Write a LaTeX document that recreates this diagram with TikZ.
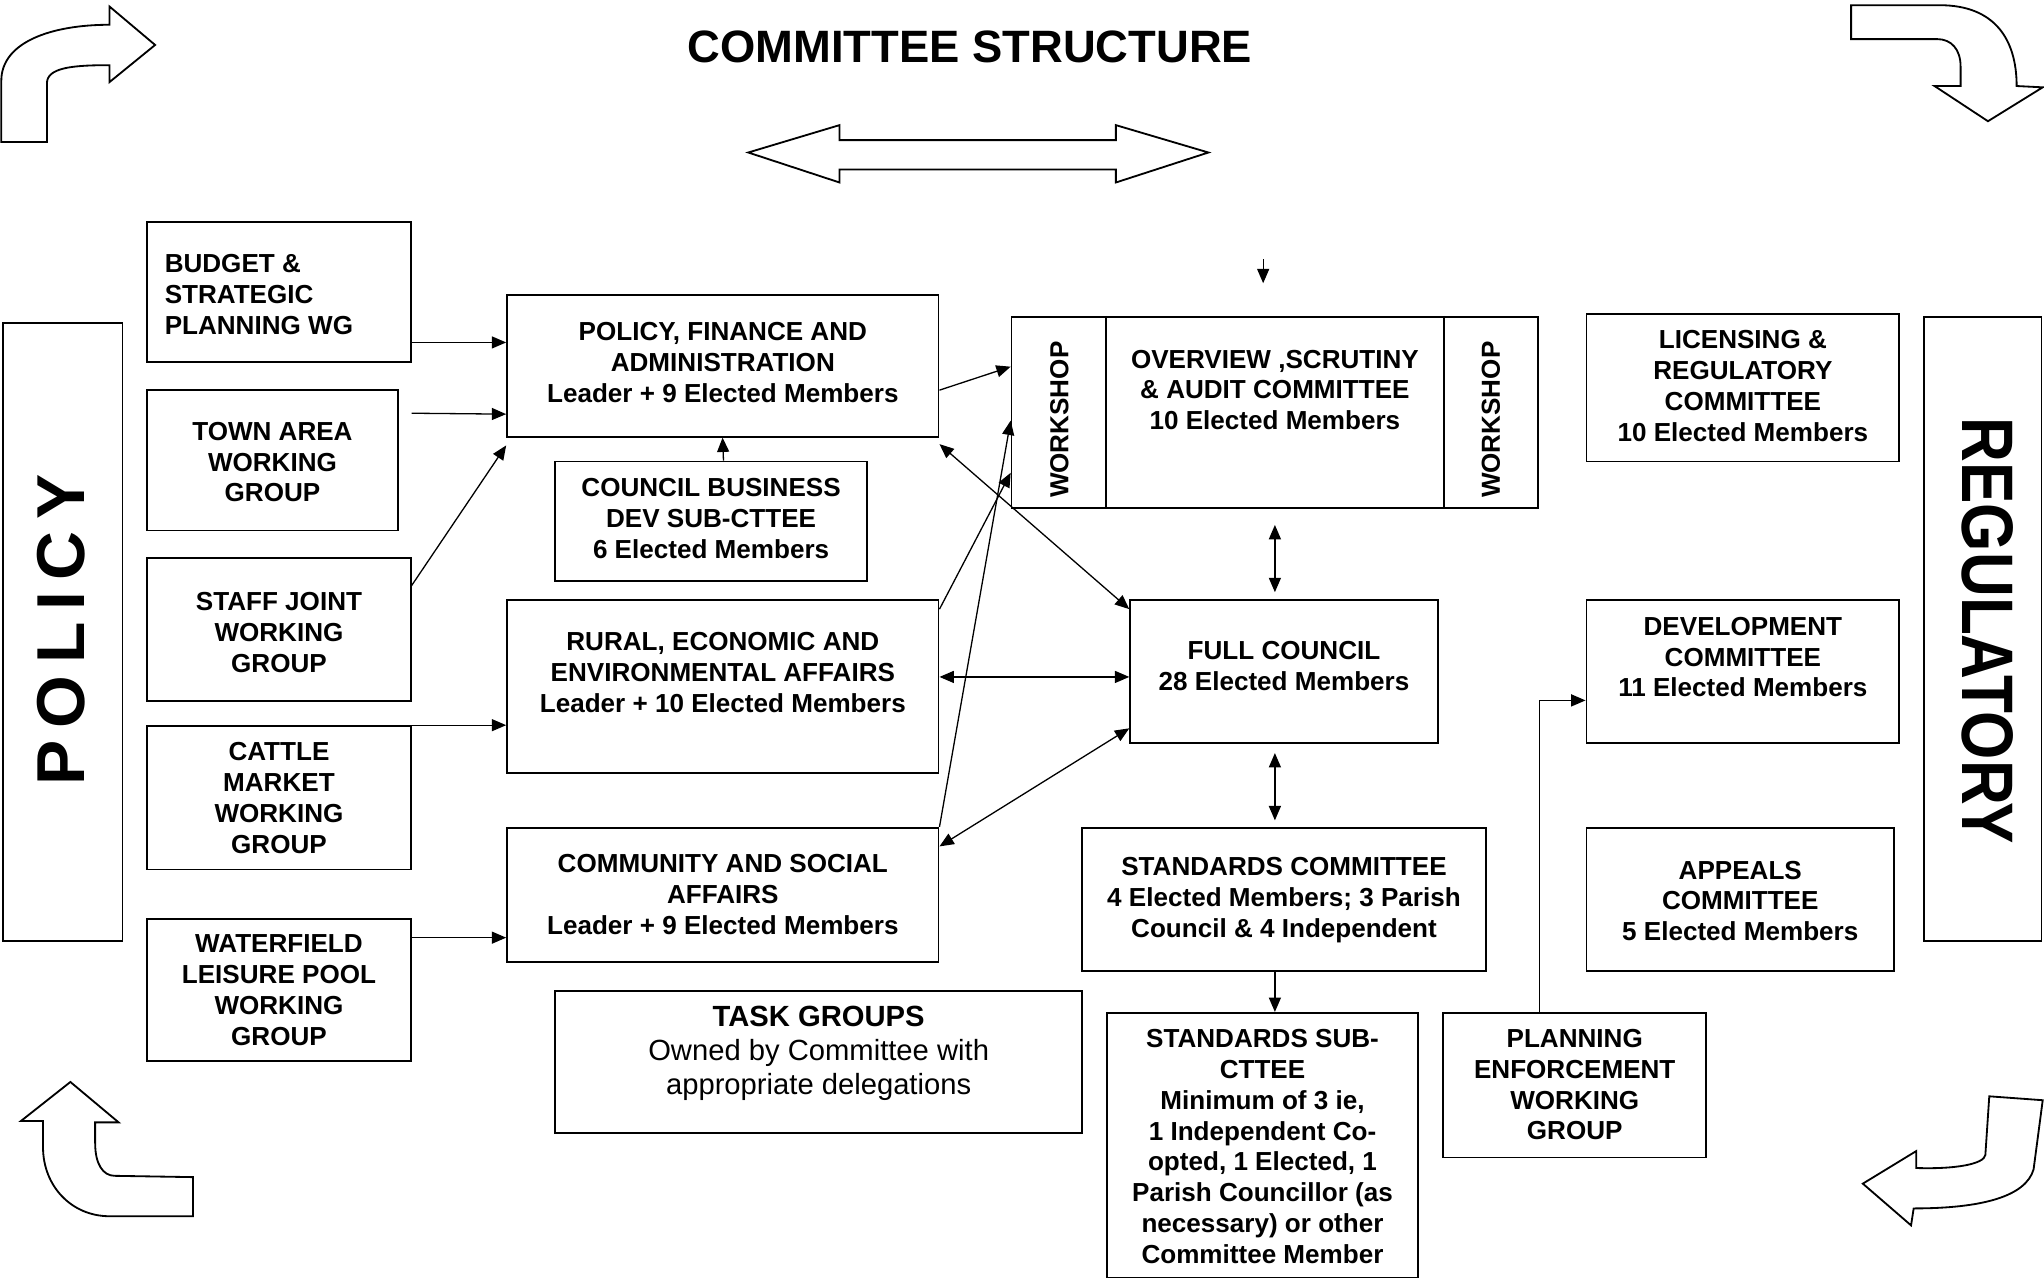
\documentclass[tikz,border=0pt]{standalone}
\usepackage{fontspec}
\setmainfont{Liberation Sans}
\usetikzlibrary{arrows.meta,calc,fit}
\begin{document}
\begin{tikzpicture}[x=0.5pt,y=-0.5pt,
  box/.style={draw, line width=0.7pt, inner sep=0pt},
  txt/.style={inner sep=0pt, align=center, text depth=0pt, font=\fontsize{10}{11.8}\selectfont\bfseries},
  arr/.style={line width=0.5pt, -{Triangle[length=5.5pt,width=4.6pt]}},
  darr/.style={line width=0.5pt, {Triangle[length=5.5pt,width=4.6pt]}-{Triangle[length=5.5pt,width=4.6pt]}},
  block/.style={draw, line width=0.7pt, fill=white, line join=miter}]
\useasboundingbox (0,0) rectangle (1568,983);

% title
\node[inner sep=0pt, font=\fontsize{17.4}{17.4}\selectfont\bfseries] (title) at (744,36) {COMMITTEE STRUCTURE};

% block arrows
\draw[block] (574,117) -- (644,96) -- (644,107.5) -- (856,107.5) -- (856,96) -- (927,117)
  -- (856,140) -- (856,130) -- (644,130) -- (644,140) -- cycle;
\draw[block] (1,109) -- (1,62) .. controls (1,32) and (40,19) .. (84,19) -- (84,5) -- (119,34.5)
  -- (84,63) -- (84,50) .. controls (55,50) and (36,52) .. (36,64) -- (36,109) -- cycle;
\draw[block] (1420,4) -- (1488,4) .. controls (1530,4) and (1547,30) .. (1547,66) -- (1567,67)
  -- (1525,93) -- (1484,66) -- (1504,66) -- (1504,51) .. controls (1504,38) and (1497,30) .. (1486,30)
  -- (1420,30) -- cycle;
\draw[block] (54,830) -- (91,861) -- (73,861) -- (73,877) .. controls (73,893) and (79,902) .. (88,902)
  -- (148,903) -- (148,933) -- (84,933) .. controls (55,933) and (33,910) .. (33,880)
  -- (33,860) -- (16,860) -- cycle;
\draw[block] (1526,841) -- (1567,844) -- (1560,897) .. controls (1554,918) and (1520,927) .. (1468,927)
  -- (1466,940) -- (1429,908) -- (1470,883) -- (1470,896) .. controls (1500,897) and (1522,893) .. (1523,886)
  -- cycle;

% side bars
\node[box, fit={(2,248)(94,722)}] (pol) {};
\node[rotate=90, inner sep=0pt, font=\fontsize{26}{26}\selectfont\bfseries] (polt) at (47,483)
  {P\kern4.5pt O\kern4.5pt L\kern4.5pt I\kern4.5pt C\kern4.5pt Y};
\node[box, fit={(1476,243)(1566,722)}] (reg) {};
\node[rotate=-90, inner sep=0pt, font=\fontsize{28}{28}\selectfont\bfseries] (regt) at (1525,484)
  {\scalebox{0.85}[1]{REGULATORY}};

% left column
\node[box, fit={(113,170)(315,278)}] (budget) {};
\node[txt, anchor=west, align=left] (budgett) at (126,226) {BUDGET \&\\STRATEGIC\\PLANNING WG};
\node[box, fit={(113,299)(305,407)}] (town) {};
\node[txt] (townt) at (209,354.5) {TOWN AREA\\WORKING\\GROUP};
\node[box, fit={(113,428)(315,538)}] (staff) {};
\node[txt] (stafft) at (214,485) {STAFF JOINT\\WORKING\\GROUP};
\node[box, fit={(113,557)(315,667)}] (cattle) {};
\node[txt] (cattlet) at (214,612) {CATTLE\\MARKET\\WORKING\\GROUP};
\node[box, fit={(113,705)(315,814)}] (water) {};
\node[txt] (watert) at (214,759.5) {WATERFIELD\\LEISURE POOL\\WORKING\\GROUP};

% middle column
\node[box, fit={(389,226)(720,335)}] (pfa) {};
\node[txt] (pfat) at (554.5,278) {POLICY, FINANCE AND\\ADMINISTRATION\\Leader + 9 Elected Members};
\node[box, fit={(426,354)(665,446)}] (cbd) {};
\node[txt] (cbdt) at (545.5,397.5) {COUNCIL BUSINESS\\DEV SUB-CTTEE\\6 Elected Members};
\node[box, fit={(389,460)(720,593)}] (rural) {};
\node[txt] (ruralt) at (554.5,516) {RURAL, ECONOMIC AND\\ENVIRONMENTAL AFFAIRS\\Leader + 10 Elected Members};
\node[box, fit={(389,635)(720,738)}] (comm) {};
\node[txt] (commt) at (554.5,686) {COMMUNITY AND SOCIAL\\AFFAIRS\\Leader + 9 Elected Members};
\node[box, fit={(426,760)(830,869)}] (task) {};
\node[inner sep=0pt, align=center, text depth=0pt, font=\fontsize{11.2}{13}\selectfont] (taskt) at (628,806)
  {{\bfseries TASK GROUPS}\\Owned by Committee with\\appropriate delegations};

% overview
\node[box, fit={(776,243)(1180,390)}] (ov) {};
\draw[line width=0.7pt] ($(ov.north west)+(73,0)$) -- ($(ov.south west)+(73,0)$);
\draw[line width=0.7pt] ($(ov.north east)+(-73,0)$) -- ($(ov.south east)+(-73,0)$);
\node[txt, rotate=90] (ws1) at (812.5,322) {WORKSHOP};
\node[txt, rotate=90] (ws2) at (1143.5,322) {WORKSHOP};
\node[txt] (ovt) at (978,299) {OVERVIEW ,SCRUTINY\\\& AUDIT COMMITTEE\\10 Elected Members};

\node[box, fit={(867,460)(1103,570)}] (fc) {};
\node[txt] (fct) at (985,511) {FULL COUNCIL\\28 Elected Members};
\node[box, fit={(830,635)(1140,745)}] (std) {};
\node[txt] (stdt) at (985,688.5) {STANDARDS COMMITTEE\\4 Elected Members; 3 Parish\\Council \& 4 Independent};
\node[box, fit={(849,777)(1088,980)}] (sub) {};
\node[txt] (subt) at (968.5,879.5) {STANDARDS SUB-\\CTTEE\\Minimum of 3 ie,\\1 Independent Co-\\opted, 1 Elected, 1\\Parish Councillor (as\\necessary) or other\\Committee Member};
\node[box, fit={(1107,777)(1309,888)}] (pe) {};
\node[txt] (pet) at (1208,832) {PLANNING\\ENFORCEMENT\\WORKING\\GROUP};

% right column
\node[box, fit={(1217,241)(1457,354)}] (lic) {};
\node[txt] (lict) at (1337,296) {LICENSING \&\\REGULATORY\\COMMITTEE\\10 Elected Members};
\node[box, fit={(1217,460)(1457,570)}] (dev) {};
\node[txt] (devt) at (1337,504) {DEVELOPMENT\\COMMITTEE\\11 Elected Members};
\node[box, fit={(1217,635)(1453,745)}] (app) {};
\node[txt] (appt) at (1335,691) {APPEALS\\COMMITTEE\\5 Elected Members};

% connectors
\draw[arr] ($(budget.south east)+(0,-16)$) -- ($(pfa.south west)+(0,-73)$);
\draw[arr] ($(town.east)+(10,-36)$) -- ($(pfa.south west)+(0,-18)$);
\draw[arr] ($(staff.north east)+(0,22)$) -- ($(pfa.south west)+(0,6)$);
\draw[arr] (cattle.north east) -- ($(rural.north west)+(0,97)$);
\draw[arr] ($(water.north east)+(0,15)$) -- ($(comm.north west)+(0,85)$);
\draw[arr] ($(cbd.north)+(9.5,0)$) -- ($(pfa.south west)+(166,0)$);
\draw[arr] ($(pfa.north east)+(0,74)$) -- ($(ov.north west)+(0,39)$);
\draw[darr] ($(pfa.south east)+(0,5)$) -- ($(fc.north west)+(0,8)$);
\draw[darr] ($(rural.north east)+(0,60)$) -- ($(fc.north west)+(0,60)$);
\draw[darr] ($(comm.north east)+(0,15)$) -- ($(fc.south west)+(0,-12)$);
\draw[arr] ($(rural.north east)+(0,8)$) -- ($(ov.south west)+(0,-28)$);
\draw[arr] (comm.north east) -- ($(ov.south west)+(0,-68)$);
\coordinate (topin) at (969,199);
\draw[arr] (topin) -- ($(ov.north)+(-9,-25)$);
\draw[darr] ($(ov.south)+(0,12)$) -- ($(fc.north)+(-7,-5)$);
\draw[darr] ($(fc.south)+(-7,7)$) -- ($(std.north)+(-7,-5)$);
\draw[arr] ($(std.south)+(-7,0)$) -- ($(sub.north)+(9.5,0)$);
\draw[arr] ($(pe.north)+(-27,0)$) |- ($(dev.north west)+(0,78)$);
\end{tikzpicture}
\end{document}
